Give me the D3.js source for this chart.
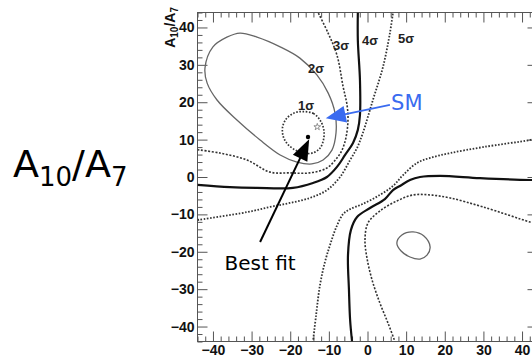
<!DOCTYPE html>
<html>
<head>
<meta charset="utf-8">
<script src="https://cdn.jsdelivr.net/npm/d3@7"></script>
<style>
  body { margin: 0; background: #fff; }
  svg { display: block; }
</style>
</head>
<body>
<div id="chart"></div>
<script>
// contour lines in (x, y) data units
var sigma1 = [[-16.6, 17.5], [-14.0, 17.0], [-12.3, 15.25], [-11.3, 12.6], [-11.4, 9.9], [-12.3, 7.7],
  [-14.0, 6.5], [-16.2, 6.3], [-18.3, 7.0], [-20.5, 8.6], [-21.8, 10.8], [-21.95, 13.5], [-20.9, 15.7], [-18.8, 17.2]];
var sigma2 = [[-42.06, 29.2], [-40.0, 34.8], [-36.4, 37.4], [-33.0, 38.5], [-28.6, 37.4], [-22.6, 34.8],
  [-17.5, 31.8], [-13.1, 27.3], [-10.2, 22.5], [-8.4, 17.1], [-8.15, 11.8], [-9.2, 7.2], [-11.5, 4.55],
  [-14.4, 3.5], [-18.25, 4.0], [-22.6, 5.9], [-27.8, 9.9], [-33.8, 15.25], [-38.95, 20.6], [-41.5, 25.1]];
var sigma2Island = [[11.8, -14.7], [14.6, -15.8], [16.2, -18.7], [15.4, -20.9], [13.6, -21.95], [11.0, -21.4],
  [8.7, -19.8], [7.6, -17.65], [8.9, -15.5]];
var sigma3Upper = [[-44, 7.3], [-38.2, 6.4], [-31.2, 4.55], [-25.2, 1.3], [-20.1, 1.1], [-14.9, 1.1], [-10.5, 2.4],
  [-7.9, 5.1], [-6.6, 7.2], [-5.6, 10.4], [-5.05, 15.25], [-5.3, 19.3], [-6.3, 24.1], [-7.9, 32.6], [-10.2, 38.5], [-12.8, 44]];
var sigma3Lower = [[44, -12.6], [42.06, -12.05], [29.9, -8.0], [21.4, -5.6], [16.2, -4.8], [11.8, -4.8], [7.6, -6.4],
  [3.2, -9.1], [0.13, -12.3], [-0.65, -16.8], [-0.13, -21.7], [1.2, -27.6], [3.2, -33.7], [5.3, -39.05], [7.1, -44]];
var sigma4Upper = [[-44, -2.1], [-35.6, -2.7], [-28.6, -2.9], [-19.3, -2.9], [-14.1, -1.6], [-10.5, 0], [-7.9, 2.7],
  [-5.8, 5.9], [-3.75, 9.1], [-2.5, 12.6], [-1.95, 16.6], [-1.95, 25.9], [-2.5, 36.6], [-2.5, 44]];
var sigma4Lower = [[44, -0.8], [42.06, -0.8], [29.1, -0.3], [18.8, 0.3], [13.6, 0], [11.0, -0.8], [8.4, -2.4],
  [6.6, -3.5], [4.5, -5.9], [0.65, -8.3], [-2.7, -10.7], [-4.3, -14.2], [-5.05, -20.9], [-4.8, -30.2], [-4.5, -38.25], [-4.0, -44]];
var sigma5Upper = [[-44, -11.5], [-31.2, -9.4], [-25.2, -8.0], [-20.1, -6.95], [-14.9, -5.6], [-10.5, -3.5], [-7.1, 0],
  [-4.5, 4.55], [-2.7, 7.8], [-1.2, 11.8], [1.4, 20.6], [4.0, 29.4], [5.8, 38.5], [6.6, 44]];
var sigma5Lower = [[44, 10.4], [42.06, 9.9], [29.9, 8.0], [21.4, 6.4], [16.2, 5.1], [12.8, 3.75], [9.2, 0.5], [6.6, -2.4],
  [3.2, -4.8], [-1.2, -7.2], [-4.5, -8.6], [-6.3, -9.9], [-8.15, -13.6], [-9.7, -18.2], [-11.0, -22.7], [-12.3, -28.9],
  [-13.3, -36.9], [-14.1, -44]];

var bestFit = [-15.4, 10.7];
var smPoint = [-13.0, 13.4];
var bestFitLabel = [-27.8, -24.9];
var bestFitTail = [-27.8, -17.4];
var smLabel = [6.1, 17.9];
var smArrowTail = [5.8, 19.3];
var smArrowTip = [-10.8, 15.7];

var sigmaLabels = ['1σ', '2σ', '3σ', '4σ', '5σ'];
var sigmaLabelPos = [[-18.0, 17.9], [-15.4, 27.8], [-8.9, 34.0], [-1.4, 35.3], [7.9, 35.8]];

var xTicks = [-40, -30, -20, -10, 0, 10, 20, 30, 40];
var yTicks = [-40, -30, -20, -10, 0, 10, 20, 30, 40];
var minorTicks = d3.range(-44, 45, 2);

var width = 532, height = 356;
var padL = 197.5, padR = 537.5, padT = 12.5, padB = 341.5;
var tickFont = 'Liberation Sans, Arial, Helvetica, sans-serif';

var svg = d3.select('#chart').append('svg')
  .attr('width', width)
  .attr('height', height);

var x = d3.scaleLinear().domain([-44, 44]).range([padL, padR]);
var y = d3.scaleLinear().domain([-44, 44]).range([padB, padT]);

svg.append('clipPath').attr('id', 'plot-clip')
  .append('rect')
  .attr('x', padL).attr('y', padT)
  .attr('width', padR - padL).attr('height', padB - padT);

// frame
svg.append('rect')
  .attr('x', padL).attr('y', padT)
  .attr('width', padR - padL).attr('height', padB - padT)
  .style('fill', 'none')
  .style('stroke', '#555')
  .style('stroke-width', 1);

// ticks, all pointing inward
function addAxis(axis, tx, ty, labels) {
  var g = svg.append('g')
    .attr('transform', 'translate(' + tx + ',' + ty + ')')
    .call(axis);
  g.select('.domain').remove();
  g.selectAll('line').style('stroke', '#555').style('stroke-width', 1);
  g.selectAll('text')
    .style('font-family', tickFont)
    .style('font-weight', 'bold')
    .style('font-size', '14px')
    .style('fill', '#111');
  if (!labels) g.selectAll('text').remove();
  return g;
}

var minorX = minorTicks.filter(function(d) { return xTicks.indexOf(d) < 0; });
var minorY = minorTicks.filter(function(d) { return yTicks.indexOf(d) < 0; });

addAxis(d3.axisBottom(x).tickValues(xTicks).tickSizeInner(-10).tickSizeOuter(0).tickPadding(4), 0, padB, true);
addAxis(d3.axisBottom(x).tickValues(minorX).tickSizeInner(-5).tickSizeOuter(0), 0, padB, false);
addAxis(d3.axisTop(x).tickValues(xTicks).tickSizeInner(-10).tickSizeOuter(0), 0, padT, false);
addAxis(d3.axisTop(x).tickValues(minorX).tickSizeInner(-5).tickSizeOuter(0), 0, padT, false);
addAxis(d3.axisLeft(y).tickValues(yTicks).tickSizeInner(-10).tickSizeOuter(0).tickPadding(3), padL, 0, true);
addAxis(d3.axisLeft(y).tickValues(minorY).tickSizeInner(-5).tickSizeOuter(0), padL, 0, false);
addAxis(d3.axisRight(y).tickValues(yTicks).tickSizeInner(-10).tickSizeOuter(0), padR, 0, false);
addAxis(d3.axisRight(y).tickValues(minorY).tickSizeInner(-5).tickSizeOuter(0), padR, 0, false);

// y axis title
var yTitle = svg.append('text')
  .attr('transform', 'translate(175,7) rotate(-90)')
  .style('text-anchor', 'end')
  .style('font-family', tickFont)
  .style('font-weight', 'bold')
  .style('font-size', '14px')
  .style('fill', '#111');
yTitle.append('tspan').text('A');
yTitle.append('tspan').text('10').attr('dy', 3).style('font-size', '10px');
yTitle.append('tspan').text('/A').attr('dy', -3);
yTitle.append('tspan').text('7').attr('dy', 3).style('font-size', '10px');

// contours
var plot = svg.append('g').attr('clip-path', 'url(#plot-clip)');
var lineOpen = d3.line().x(function(d) { return x(d[0]); }).y(function(d) { return y(d[1]); })
  .curve(d3.curveCatmullRom.alpha(0.5));
var lineClosed = d3.line().x(function(d) { return x(d[0]); }).y(function(d) { return y(d[1]); })
  .curve(d3.curveCatmullRomClosed.alpha(0.5));

var contours = [
  { data: sigma2, gen: lineClosed, color: '#666', w: 1.3, dash: null },
  { data: sigma2Island, gen: lineClosed, color: '#666', w: 1.3, dash: null },
  { data: sigma1, gen: lineClosed, color: '#333', w: 1.7, dash: '1.6,1.6' },
  { data: sigma3Upper, gen: lineOpen, color: '#333', w: 1.6, dash: '2,1.6' },
  { data: sigma3Lower, gen: lineOpen, color: '#333', w: 1.6, dash: '2,1.6' },
  { data: sigma4Upper, gen: lineOpen, color: '#111', w: 2.2, dash: null },
  { data: sigma4Lower, gen: lineOpen, color: '#111', w: 2.2, dash: null },
  { data: sigma5Upper, gen: lineOpen, color: '#333', w: 1.8, dash: '1.6,1.6' },
  { data: sigma5Lower, gen: lineOpen, color: '#333', w: 1.8, dash: '1.6,1.6' }
];

plot.selectAll('path.contour')
  .data(contours)
  .enter().append('path')
  .attr('class', 'contour')
  .attr('d', function(d) { return d.gen(d.data); })
  .style('fill', 'none')
  .style('stroke', function(d) { return d.color; })
  .style('stroke-width', function(d) { return d.w; })
  .style('stroke-dasharray', function(d) { return d.dash; });

// sigma labels
svg.selectAll('text.sig')
  .data(sigmaLabels)
  .enter().append('text')
  .attr('class', 'sig')
  .attr('x', function(d, i) { return x(sigmaLabelPos[i][0]); })
  .attr('y', function(d, i) { return y(sigmaLabelPos[i][1]); })
  .text(function(d) { return d; })
  .style('font-family', tickFont)
  .style('font-weight', 'bold')
  .style('font-size', '13px')
  .style('fill', '#222');

// SM marker and best fit point
plot.append('path')
  .attr('d', d3.symbol().type(d3.symbolStar).size(14))
  .attr('transform', 'translate(' + x(smPoint[0]) + ',' + y(smPoint[1]) + ')')
  .style('fill', 'none')
  .style('stroke', '#777')
  .style('stroke-width', 0.8);
plot.append('circle')
  .attr('cx', x(bestFit[0]))
  .attr('cy', y(bestFit[1]))
  .attr('r', 2.2)
  .style('fill', '#000');

function arrow(tail, tip, color, lw, headLen, headW) {
  var x0 = x(tail[0]), y0 = y(tail[1]), x1 = x(tip[0]), y1 = y(tip[1]);
  var dx = x1 - x0, dy = y1 - y0, len = Math.sqrt(dx * dx + dy * dy);
  var ux = dx / len, uy = dy / len;
  var bx = x1 - ux * headLen, by = y1 - uy * headLen;
  svg.append('line')
    .attr('x1', x0).attr('y1', y0).attr('x2', bx + ux * 2).attr('y2', by + uy * 2)
    .style('stroke', color).style('stroke-width', lw);
  svg.append('path')
    .attr('d', 'M' + x1 + ',' + y1 +
      'L' + (bx - uy * headW / 2) + ',' + (by + ux * headW / 2) +
      'L' + (bx + uy * headW / 2) + ',' + (by - ux * headW / 2) + 'Z')
    .style('fill', color);
}

arrow(bestFitTail, [bestFit[0] + 0.3, bestFit[1] - 0.6], '#000', 2, 21, 16);
arrow(smArrowTail, smArrowTip, '#3a6bf0', 1.6, 20, 17);

svg.append('text')
  .attr('x', x(bestFitLabel[0]))
  .attr('y', y(bestFitLabel[1]))
  .text('Best fit')
  .style('text-anchor', 'middle')
  .style('font-family', 'DejaVu Sans, Verdana, sans-serif')
  .style('font-size', '20px')
  .style('fill', '#000');

svg.append('text')
  .attr('x', x(smLabel[0]))
  .attr('y', y(smLabel[1]))
  .text('SM')
  .style('font-family', 'DejaVu Sans, Verdana, sans-serif')
  .style('font-size', '21px')
  .style('fill', '#3a6bf0');

// big label on the left
var big = svg.append('text')
  .attr('x', 13)
  .attr('y', 177)
  .style('font-family', 'DejaVu Sans, Verdana, sans-serif')
  .style('font-size', '38px')
  .style('fill', '#000');
big.append('tspan').text('A');
big.append('tspan').text('10').attr('dy', 9).style('font-size', '26px');
big.append('tspan').text('/A').attr('dy', -9);
big.append('tspan').text('7').attr('dy', 9).style('font-size', '26px');
</script>
</body>
</html>
